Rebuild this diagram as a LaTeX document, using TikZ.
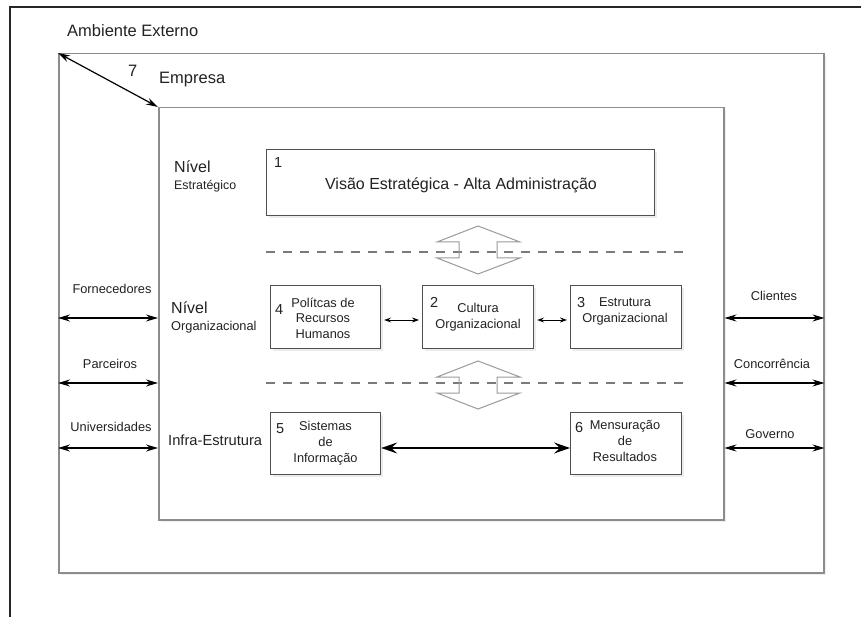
\documentclass[tikz,border=0pt]{standalone}
\usepackage{fontspec}
\setmainfont{Liberation Sans}
\usetikzlibrary{arrows.meta,shadows}

\definecolor{framec}{HTML}{262626}
\definecolor{rectc}{HTML}{8C8C8C}
\definecolor{boxc}{HTML}{505050}
\definecolor{dashc}{HTML}{7A7A7A}
\definecolor{hollowc}{HTML}{9A9A9A}
\definecolor{txtc}{HTML}{222222}

\begin{document}
\begin{tikzpicture}[x=1pt,y=-1pt,
  every node/.style={text=txtc},
  region/.style={draw=rectc, line width=1.5pt, fill=white, inner sep=0pt,
    anchor=north west,
    drop shadow={shadow xshift=2pt, shadow yshift=-2pt, opacity=0.12}},
  unit/.style={draw=boxc, line width=1.2pt, fill=white, inner sep=0pt,
    anchor=north west,
    drop shadow={shadow xshift=2pt, shadow yshift=-2pt, opacity=0.15}},
  fbig/.style={inner sep=0pt, font=\fontsize{16.5}{19}\selectfont},
  fmid/.style={inner sep=0pt, font=\fontsize{16}{19}\selectfont},
  fnum/.style={inner sep=0pt, font=\fontsize{14.5}{17}\selectfont},
  finfra/.style={inner sep=0pt, font=\fontsize{14.7}{17}\selectfont},
  fsmall/.style={inner sep=0pt, font=\fontsize{12.8}{15.5}\selectfont},
  fbox/.style={inner sep=0pt, align=center, font=\fontsize{12.8}{15.5}\selectfont},
  fbox3/.style={inner sep=0pt, align=center, font=\fontsize{12.8}{16}\selectfont},
  sidearrow/.style={line width=1.2pt, black,
    {Stealth[length=12pt,width=7pt,inset=4pt]}-{Stealth[length=12pt,width=7pt,inset=4pt]}},
  linkarrow/.style={line width=0.9pt, black,
    {Stealth[length=7pt,width=5pt,inset=2.5pt]}-{Stealth[length=7pt,width=5pt,inset=2.5pt]},
    shorten <=3pt, shorten >=3pt},
  bigarrow/.style={line width=1.8pt, black,
    {Stealth[length=16pt,width=11pt,inset=6pt]}-{Stealth[length=16pt,width=11pt,inset=6pt]}},
  dashline/.style={dashc, line width=1.2pt, dash pattern=on 9pt off 8pt},
  updown/.pic={
    \draw[hollowc, line width=1pt, line join=miter]
      (0,-24) -- (-41,-8) -- (-19,-8) -- (-19,8) -- (-41,8) -- (0,24)
      -- (42,8) -- (19,8) -- (19,-8) -- (42,-8) -- cycle;
  }
]
\useasboundingbox (0,0) rectangle (861,617);

% outer frame
\draw[framec, line width=2pt] (10,617) -- (10,7) -- (861,7);

% environment and company regions
\node[region, minimum width=765pt, minimum height=519pt] (amb) at (58,53) {};
\node[region, minimum width=565pt, minimum height=412pt] (emp) at (158,107) {};

% level separators
\coordinate (dA) at (0,252);
\coordinate (dB) at (0,383);

% boxes
\node[unit, minimum width=388pt, minimum height=66pt] (b1) at (266,149) {};
\node[unit, minimum width=110pt, minimum height=63pt] (b4) at (270,285) {};
\node[unit, minimum width=111pt, minimum height=63pt] (b2) at (422,285) {};
\node[unit, minimum width=111pt, minimum height=63pt] (b3) at (570,285) {};
\node[unit, minimum width=110pt, minimum height=62pt] (b5) at (270,412) {};
\node[unit, minimum width=111pt, minimum height=62pt] (b6) at (570,412) {};

\draw[dashline] (b1.west |- dA) -- ([xshift=2pt]b3.east |- dA);
\draw[dashline] (b1.west |- dB) -- ([xshift=2pt]b3.east |- dB);
\pic at (478,250) {updown};
\pic at (478,385) {updown};

% region titles
\node[fbig, anchor=base west] (ambt) at (67,37) {Ambiente Externo};
\node[fbig, anchor=base west] (empt) at (159,84) {Empresa};
\node[fbig, anchor=base west] (seven) at (128,77) {7};

% level titles
\node[fmid, anchor=base west] (nv1) at (174,173) {Nível};
\node[fsmall, anchor=base west, font=\fontsize{12.4}{15}\selectfont] (est) at (174,190) {Estratégico};
\node[fmid, anchor=base west] (nv2) at (171,313) {Nível};
\node[fsmall, anchor=base west] (org) at (171,330) {Organizacional};
\node[finfra, anchor=base west] (infra) at (168,445) {Infra-Estrutura};

% box contents
\node[fnum, anchor=base west] (n1) at (274,168) {1};
\node[fmid, anchor=base] (t1) at (461,190) {Visão Estratégica - Alta Administração};
\node[fnum, anchor=base west] (n4) at (275,314) {4};
\node[fbox] (t4) at (323,318) {Polítcas de\\Recursos\\Humanos};
\node[fnum, anchor=base west] (n2) at (430,308) {2};
\node[fbox3] (t2) at (478,317) {Cultura\\Organizacional};
\node[fnum, anchor=base west] (n3) at (577,308) {3};
\node[fbox3] (t3) at (625,311) {Estrutura\\Organizacional};
\node[fnum, anchor=base west] (n5) at (276,433) {5};
\node[fbox3] (t5) at (325.5,443.6) {Sistemas\\de\\Informação};
\node[fnum, anchor=base west] (n6) at (575,432) {6};
\node[fbox3] (t6) at (625,441.4) {Mensuração\\de\\Resultados};

% external partners
\node[fsmall, anchor=base] (forn) at (112,294) {Fornecedores};
\node[fsmall, anchor=base] (parc) at (110,368) {Parceiros};
\node[fsmall, anchor=base] (univ) at (111,431) {Universidades};
\node[fsmall, anchor=base] (cli) at (774,301) {Clientes};
\node[fsmall, anchor=base] (conc) at (772,368) {Concorrência};
\node[fsmall, anchor=base] (gov) at (770,438) {Governo};

% connectors
\coordinate (rA) at (0,318);
\coordinate (rB) at (0,383);
\coordinate (rC) at (0,448);
\coordinate (rM) at (0,320);

\draw[sidearrow] (amb.north west) -- (emp.north west);
\draw[sidearrow] (amb.west |- rA) -- (emp.west |- rA);
\draw[sidearrow] (amb.west |- rB) -- (emp.west |- rB);
\draw[sidearrow] (amb.west |- rC) -- (emp.west |- rC);
\draw[sidearrow] (emp.east |- rA) -- (amb.east |- rA);
\draw[sidearrow] (emp.east |- rB) -- (amb.east |- rB);
\draw[sidearrow] (emp.east |- rC) -- (amb.east |- rC);

\draw[linkarrow] (b4.east |- rM) -- (b2.west |- rM);
\draw[linkarrow] (b2.east |- rM) -- (b3.west |- rM);
\draw[bigarrow] (b5.east |- rC) -- (b6.west |- rC);
\end{tikzpicture}
\end{document}
